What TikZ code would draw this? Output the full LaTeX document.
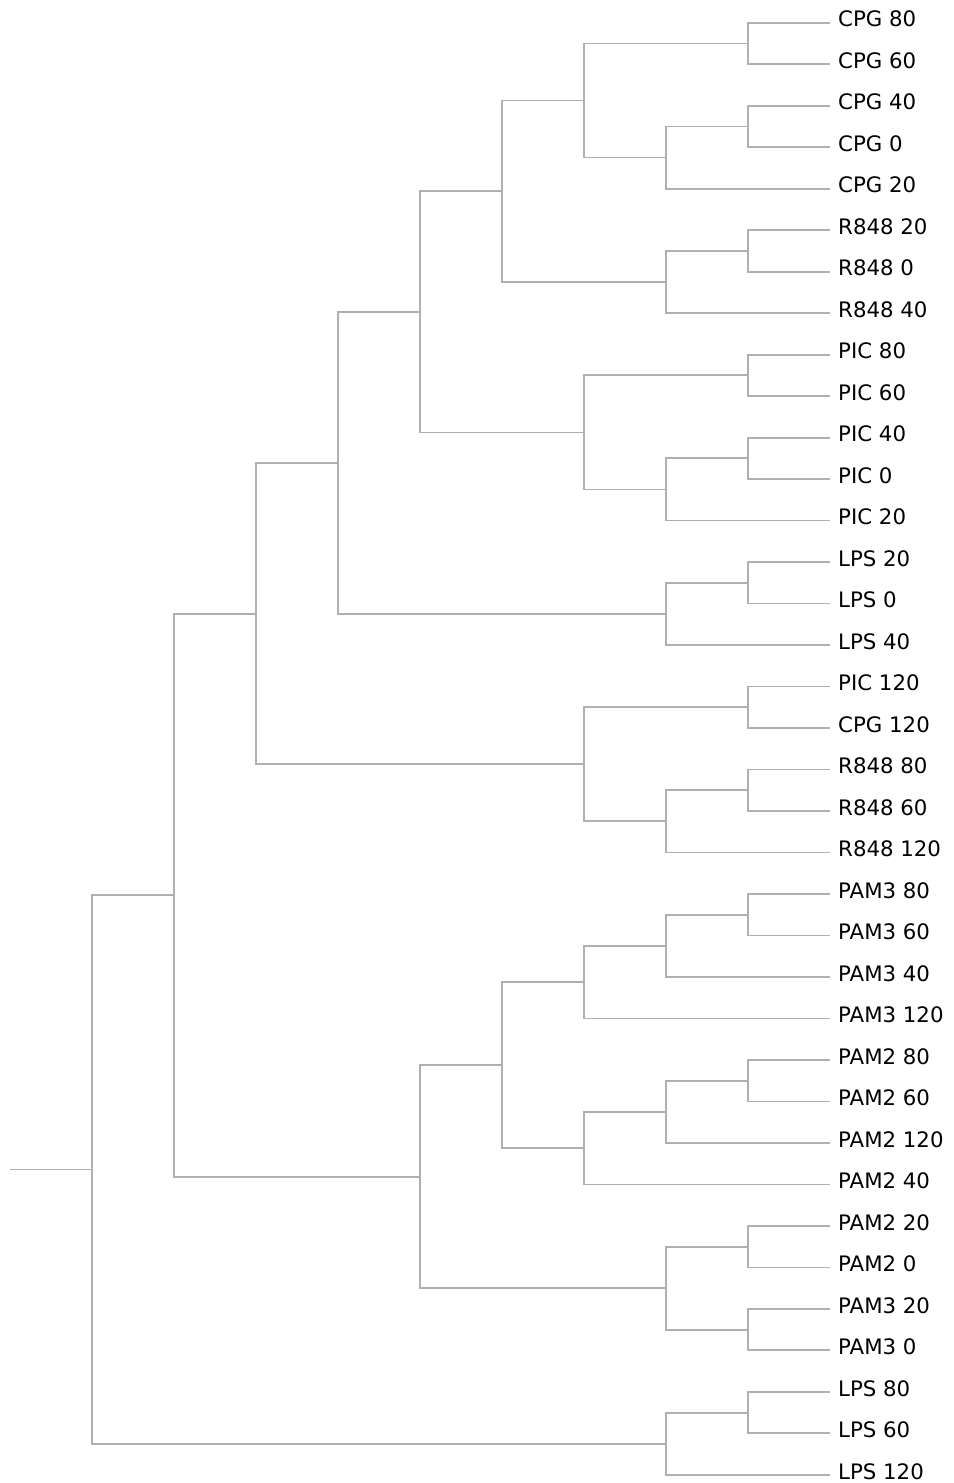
\documentclass[tikz,border=0pt]{standalone}
\usepackage{fontspec}
\setmainfont{DejaVu Sans}
\definecolor{linkgray}{RGB}{176,176,176}
\begin{document}
\begin{tikzpicture}[x=1pt,y=-1pt,
  link/.style={draw=linkgray,line width=1.8pt},
  leaflabel/.style={anchor=base west,inner sep=0pt,font=\fontsize{21.3}{25}\selectfont,text=black}]
\useasboundingbox (0,0) rectangle (953,1483);
% leaves
\foreach \i/\lab in {1/CPG 80,2/CPG 60,3/CPG 40,4/CPG 0,5/CPG 20,6/R848 20,7/R848 0,8/R848 40,
  9/PIC 80,10/PIC 60,11/PIC 40,12/PIC 0,13/PIC 20,14/LPS 20,15/LPS 0,16/LPS 40,
  17/PIC 120,18/CPG 120,19/R848 80,20/R848 60,21/R848 120,22/PAM3 80,23/PAM3 60,24/PAM3 40,
  25/PAM3 120,26/PAM2 80,27/PAM2 60,28/PAM2 120,29/PAM2 40,30/PAM2 20,31/PAM2 0,32/PAM3 20,
  33/PAM3 0,34/LPS 80,35/LPS 60,36/LPS 120}{
  \pgfmathsetmacro{\yy}{22.7+41.49*(\i-1)}
  \coordinate (l\i) at (830,\yy);
  \node[leaflabel] (t\i) at (838,\yy+4.2) {\lab};
}
% internal nodes
\coordinate (A1) at (748,43.445);
\coordinate (A2) at (748,126.425);
\coordinate (A3) at (666,157.54);
\coordinate (A4) at (584,100.49);
\coordinate (R1) at (748,250.895);
\coordinate (R2) at (666,282.01);
\coordinate (A5) at (502,191.25);
\coordinate (P1) at (748,375.365);
\coordinate (P2) at (748,458.345);
\coordinate (P3) at (666,489.46);
\coordinate (P4) at (584,432.41);
\coordinate (A6) at (420,311.83);
\coordinate (L1) at (748,582.815);
\coordinate (L2) at (666,613.93);
\coordinate (A7) at (338,462.88);
\coordinate (Q1) at (748,707.285);
\coordinate (Q2) at (748,790.265);
\coordinate (Q3) at (666,821.38);
\coordinate (Q4) at (584,764.33);
\coordinate (A8) at (256,613.61);
\coordinate (M1) at (748,914.735);
\coordinate (M2) at (666,945.85);
\coordinate (M3) at (584,982.16);
\coordinate (N1) at (748,1080.695);
\coordinate (N2) at (666,1111.81);
\coordinate (N3) at (584,1148.12);
\coordinate (M4) at (502,1065.14);
\coordinate (O1) at (748,1246.655);
\coordinate (O2) at (748,1329.635);
\coordinate (O3) at (666,1288.145);
\coordinate (M5) at (420,1176.64);
\coordinate (B) at (174,895.13);
\coordinate (S1) at (748,1412.615);
\coordinate (S2) at (666,1443.73);
\coordinate (root) at (92,1169.43);
\coordinate (stub) at (10,1169.43);
% links
\foreach \a/\p/\b in {l1/A1/l2, l3/A2/l4, A2/A3/l5, A1/A4/A3,
  l6/R1/l7, R1/R2/l8, A4/A5/R2,
  l9/P1/l10, l11/P2/l12, P2/P3/l13, P1/P4/P3, A5/A6/P4,
  l14/L1/l15, L1/L2/l16, A6/A7/L2,
  l17/Q1/l18, l19/Q2/l20, Q2/Q3/l21, Q1/Q4/Q3, A7/A8/Q4,
  l22/M1/l23, M1/M2/l24, M2/M3/l25,
  l26/N1/l27, N1/N2/l28, N2/N3/l29, M3/M4/N3,
  l30/O1/l31, l32/O2/l33, O1/O3/O2, M4/M5/O3,
  A8/B/M5,
  l34/S1/l35, S1/S2/l36,
  B/root/S2}{
  \draw[link] (\a) -| (\p) |- (\b);
}
\draw[link] (stub) -- (root);
\end{tikzpicture}
\end{document}
